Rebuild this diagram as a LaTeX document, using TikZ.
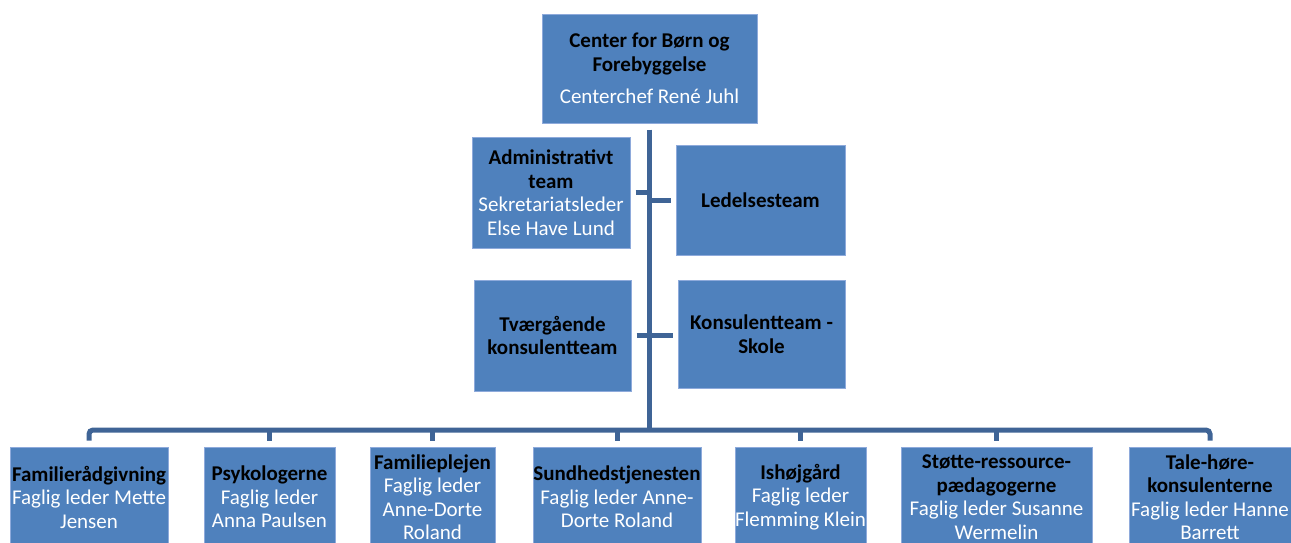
\documentclass[tikz,border=0pt]{standalone}
\usepackage{fontspec}
\setmainfont{Carlito}
\definecolor{boxblue}{HTML}{4F81BD}
\definecolor{boxedge}{HTML}{8EAADB}
\definecolor{linkblue}{HTML}{3F6496}
\newcommand{\unithead}[1]{\textcolor{black}{\textbf{#1}}}

\begin{document}
\begin{tikzpicture}[x=1pt,y=-1pt,
  unit/.style={rectangle,fill=boxblue,draw=boxedge,line width=1pt,text=white,align=center,inner sep=0pt,font=\fontsize{21}{23.5}\selectfont},
  link/.style={draw=linkblue,line width=5pt}]
  \clip (0,0) rectangle (1291,542);
  \fill[white] (0,0) rectangle (1291,542);

  % top of the chart
  \node[unit,minimum width=215,minimum height=109] (center) at (649.5,68.5)
    {\unithead{Center for Børn og}\\\unithead{Forebyggelse}\\[9pt]Centerchef René Juhl};
  \node[unit,minimum width=158,minimum height=111] (admin) at (551,192.5)
    {\unithead{Administrativt}\\\unithead{team}\\Sekretariatsleder\\Else Have Lund};
  \node[unit,minimum width=169,minimum height=110] (ledelse) at (760.5,200)
    {\unithead{Ledelsesteam}};
  \node[unit,minimum width=157,minimum height=111] (tvaer) at (552.5,335.5)
    {\unithead{Tværgående}\\\unithead{konsulentteam}};
  \node[unit,minimum width=167,minimum height=108] (skole) at (761.5,334)
    {\unithead{Konsulentteam -}\\\unithead{Skole}};

  % bottom row
  \node[unit,minimum width=158,minimum height=100] (b1) at (89,497)
    {\unithead{Familierådgivning}\\Faglig leder Mette\\Jensen};
  \node[unit,minimum width=131,minimum height=100] (b2) at (269.5,497)
    {\unithead{Psykologerne}\\Faglig leder\\Anna Paulsen};
  \node[unit,minimum width=125,minimum height=100] (b3) at (432.5,497)
    {\unithead{Familieplejen}\\Faglig leder\\Anne-Dorte\\Roland};
  \node[unit,minimum width=168,minimum height=100] (b4) at (617,497)
    {\unithead{Sundhedstjenesten}\\Faglig leder Anne-\\Dorte Roland};
  \node[unit,minimum width=131,minimum height=100] (b5) at (800.5,497)
    {\unithead{Ishøjgård}\\Faglig leder\\Flemming Klein};
  \node[unit,minimum width=191,minimum height=100] (b6) at (996.5,497)
    {\unithead{Støtte-ressource-}\\\unithead{pædagogerne}\\Faglig leder Susanne\\Wermelin};
  \node[unit,minimum width=162,minimum height=100] (b7) at (1210,497)
    {\unithead{Tale-høre-}\\\unithead{konsulenterne}\\Faglig leder Hanne\\Barrett};

  % connectors
  \coordinate (bus) at (649.5,430);
  \draw[link] ([yshift=-6pt]center.south) -- (bus);
  \draw[link] ([xshift=5pt]admin.east) -- (admin.east -| bus);
  \draw[link] (ledelse.west -| bus) -- ([xshift=-5pt]ledelse.west);
  \draw[link] ([xshift=5pt]tvaer.east) -- ([xshift=-5pt]tvaer.east -| skole.west);
  \draw[link,rounded corners=4pt] ([yshift=6pt]b1.north) |- (bus) -| ([yshift=6pt]b7.north);
  \foreach \b in {b2,b3,b4,b5,b6}
    \draw[link] (\b.north |- bus) -- ([yshift=6pt]\b.north);
\end{tikzpicture}
\end{document}
